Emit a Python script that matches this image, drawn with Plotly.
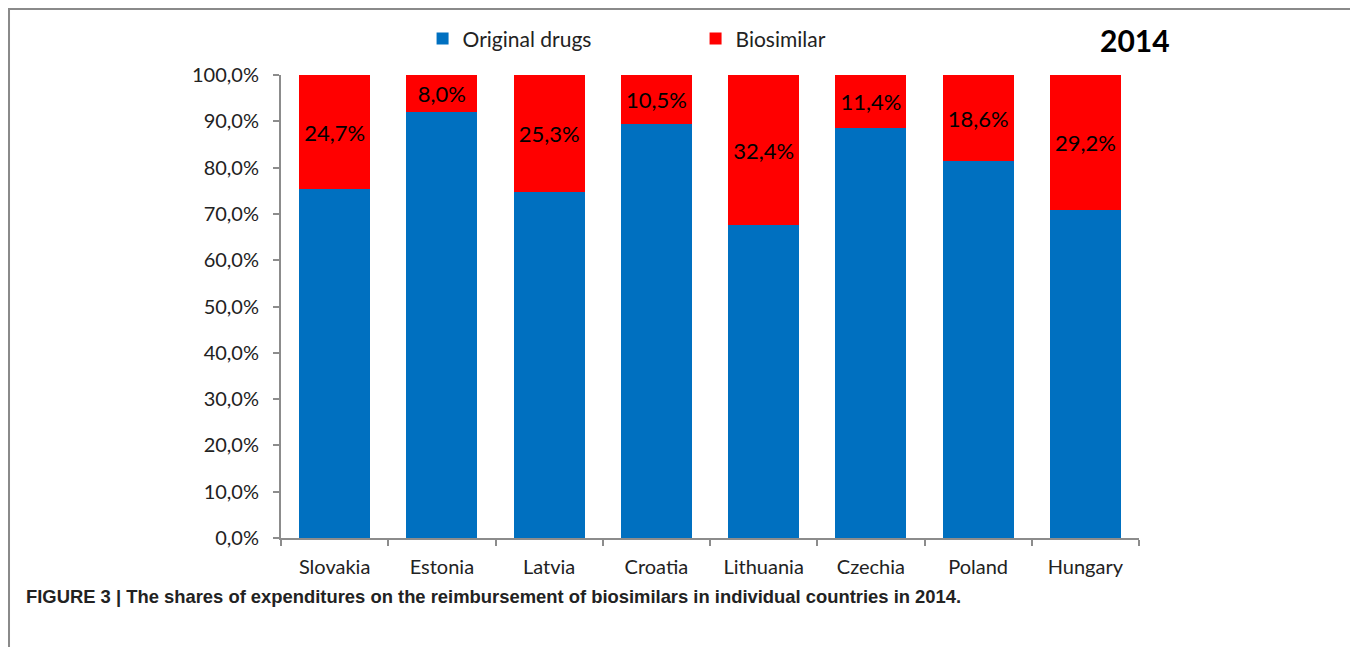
import plotly.graph_objects as go

countries = ["Slovakia", "Estonia", "Latvia", "Croatia", "Lithuania", "Czechia", "Poland", "Hungary"]
biosimilar = [24.7, 8.0, 25.3, 10.5, 32.4, 11.4, 18.6, 29.2]
original = [75.3, 92.0, 74.7, 89.5, 67.6, 88.6, 81.4, 70.8]
y_ticks = [0, 10, 20, 30, 40, 50, 60, 70, 80, 90, 100]
y_tick_labels = ["0,0%", "10,0%", "20,0%", "30,0%", "40,0%", "50,0%",
                 "60,0%", "70,0%", "80,0%", "90,0%", "100,0%"]

font_main = "Lato, Open Sans, sans-serif"

fig = go.Figure()
fig.add_trace(go.Bar(x=countries, y=original, name="Original drugs",
                     marker=dict(color="#0070C0", line=dict(width=0))))
fig.add_trace(go.Bar(x=countries, y=biosimilar, name="Biosimilar",
                     marker=dict(color="#FF0000", line=dict(width=0)),
                     text=biosimilar, texttemplate="%{y:.1f}%", textposition="inside",
                     insidetextanchor="middle",
                     textfont=dict(family=font_main, size=22, color="black")))

# page body has an 8px margin, so the figure is made 8px smaller and shifted
fig.update_layout(
    barmode="stack",
    bargap=0.34,
    separators=", ",
    width=1350, height=639,
    margin=dict(l=273, r=219, t=67, b=109, autoexpand=False),
    paper_bgcolor="white", plot_bgcolor="white",
    font=dict(family=font_main, size=20, color="#222"),
    uniformtext=dict(mode="show", minsize=22),
    legend=dict(orientation="h", x=0.165, xanchor="left", y=1.078, yanchor="middle",
                traceorder="normal",
                entrywidth=228, entrywidthmode="pixels",
                font=dict(family=font_main, size=21, color="#222"), itemwidth=30),
    showlegend=True,
)
fig.update_yaxes(range=[0, 100], tickvals=y_ticks, ticktext=y_tick_labels,
                 showgrid=False, zeroline=False, showline=True, linecolor="#8c8c8c", linewidth=2,
                 ticks="outside", ticklen=6, tickcolor="#8c8c8c", tickwidth=2,
                 ticklabelstandoff=10,
                 tickfont=dict(family=font_main, size=20, color="#222"))
fig.update_xaxes(showgrid=False, showline=True, linecolor="#8c8c8c", linewidth=2,
                 ticks="outside", ticklen=6, tickcolor="#8c8c8c", tickwidth=2,
                 tickson="boundaries", ticklabelstandoff=10,
                 tickfont=dict(family=font_main, size=20, color="#222"))

# frame around the figure
fig.add_shape(type="rect", xref="paper", yref="paper", x0=-0.317, x1=1.2517, y0=-0.27, y1=1.1425,
              line=dict(color="#8a8a8a", width=2), fillcolor="rgba(0,0,0,0)", layer="below")

fig.add_annotation(text="<b>2014</b>", xref="paper", yref="paper", x=0.995, y=1.0756,
                   xanchor="center", yanchor="middle", showarrow=False,
                   font=dict(family=font_main, size=30, color="black"))
fig.add_annotation(text="<b>FIGURE 3 | The shares of expenditures on the reimbursement of biosimilars in individual countries in 2014.</b>",
                   xref="paper", yref="paper", x=-0.3, y=-0.127, xanchor="left", yanchor="middle",
                   showarrow=False, font=dict(family="Liberation Sans, Arial, sans-serif", size=18.4, color="#222"))

fig.write_html("out.html")
